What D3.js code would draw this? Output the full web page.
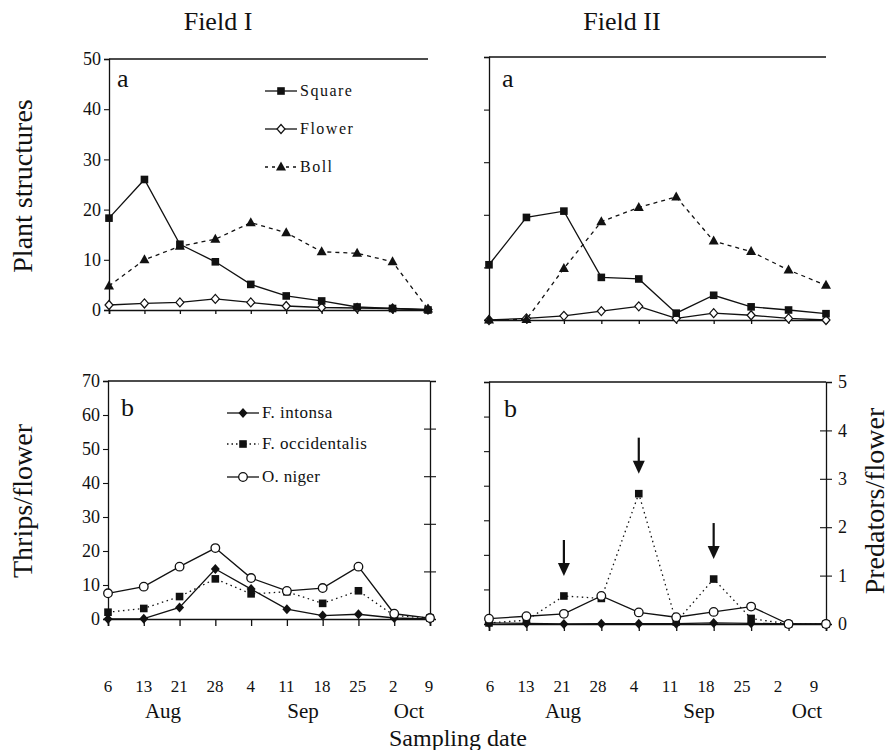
<!DOCTYPE html>
<html><head><meta charset="utf-8">
<script src="https://cdn.jsdelivr.net/npm/d3@7"></script>
<style>body{margin:0;background:#fff}svg{display:block}svg text{font-family:"Liberation Serif","Times New Roman","DejaVu Serif","Noto Serif",serif !important;fill:#111}</style>
</head><body><svg id="c" width="894" height="750" font-family="Liberation Serif, DejaVu Serif, serif"></svg>
<script>
const dates = ["6","13","21","28","4","11","18","25","2","9"];
const monthsLbl = ["Aug","Sep","Oct"];
const structTicks = [0,10,20,30,40,50];
const thripsTicks = [0,10,20,30,40,50,60,70];
const predTicks = [0,1,2,3,4,5];
// Field I, plant structures
const square1 = [18.3, 26.0, 13.1, 9.6, 5.1, 2.8, 1.8, 0.6, 0.3, 0.0];
const flower1 = [1.0, 1.3, 1.5, 2.2, 1.5, 0.8, 0.5, 0.4, 0.3, 0.1];
const boll1   = [4.8, 10.0, 12.7, 14.1, 17.4, 15.4, 11.6, 11.3, 9.6, 0.2];
// Field II, plant structures
const square2 = [10.5, 19.5, 20.7, 8.1, 7.8, 1.3, 4.7, 2.5, 1.9, 1.2];
const flower2 = [0.0, 0.3, 0.8, 1.7, 2.6, 0.3, 1.3, 0.9, 0.3, 0.0];
const boll2   = [0.0, 0.1, 9.8, 18.7, 21.4, 23.4, 15.0, 13.0, 9.5, 6.6];
// Field I, thrips (per flower) and O. niger (predators per flower)
const intonsa1 = [0.0, 0.1, 3.4, 14.7, 8.8, 2.9, 1.0, 1.4, 0.3, 0.0];
const occ1     = [2.0, 3.1, 6.6, 11.8, 7.4, 8.0, 4.6, 8.3, 1.0, 0.3];
const niger1   = [0.54, 0.68, 1.10, 1.49, 0.86, 0.59, 0.65, 1.10, 0.11, 0.02];
// Field II
const intonsa2 = [0.3, 0.2, 0.0, 0.1, 0.1, 0.1, 0.3, 0.2, 0.0, 0.0];
const occ2     = [0.3, 1.1, 8.1, 7.4, 37.7, 0.6, 13.0, 1.6, 0.0, 0.0];
const niger2   = [0.11, 0.16, 0.21, 0.58, 0.24, 0.14, 0.25, 0.36, 0.0, 0.0];
const arrowIdx = [2, 4, 6];

const FONT = "Liberation Serif, Times New Roman, DejaVu Serif, serif";
const svg = d3.select("#c");
const ink = "#111";

function panel(o){
  const g = svg.append("g");
  const x = d3.scalePoint().domain(d3.range(dates.length)).range(o.xr);
  const y = d3.scaleLinear().domain(o.yd).range(o.yr);
  g.append("line").attr("x1",o.xr[0]).attr("x2",o.xr[1]).attr("y1",o.yr[1]).attr("y2",o.yr[1]).attr("stroke",ink).attr("stroke-width",1.3);
  const la = g.append("g").attr("transform",`translate(${o.xr[0]},0)`)
    .call(d3.axisLeft(y).tickValues(o.yt).tickSize(5).tickFormat(o.ylab? d3.format("d") : ""));
  la.attr("font-family",FONT);
  la.select(".domain").attr("stroke",ink).attr("stroke-width",1.3);
  la.selectAll(".tick line").attr("stroke",ink).attr("stroke-width",1.1);
  la.selectAll(".tick text").attr("font-size",18).attr("x",-8);
  const xa = g.append("g").attr("transform",`translate(0,${o.yr[0]})`)
    .call(d3.axisBottom(x).tickSize(o.xtick).tickFormat(""));
  xa.select(".domain").attr("stroke",ink).attr("stroke-width",1.6);
  xa.selectAll(".tick line").attr("stroke",ink).attr("stroke-width",1.3);
  let y2 = null;
  if(o.right){
    y2 = d3.scaleLinear().domain([0,5]).range(o.yr);
    const ra = g.append("g").attr("transform",`translate(${o.xr[1]},0)`)
      .call(d3.axisRight(y2).tickValues(predTicks).tickSize(6).tickPadding(6).tickFormat(o.rlab? d3.format("d"):""));
    ra.attr("font-family",FONT);
    ra.select(".domain").attr("stroke",ink).attr("stroke-width",1.3);
    ra.selectAll(".tick line").attr("x1",-6).attr("stroke",ink).attr("stroke-width",1.1);
    ra.selectAll(".tick").filter(d=>d===0||d===5).select("line").remove();
    ra.selectAll(".tick text").attr("font-size",18);
  }
  g.append("text").attr("x",o.letterX).attr("y",o.letterY).attr("font-size",26).text(o.letter);
  return {g,x,y,y2};
}

function drawSeries(p, vals, yS, st){
  const line = d3.line().x((d,i)=>p.x(i)).y(d=>yS(d));
  p.g.append("path").datum(vals).attr("d",line).attr("fill","none")
    .attr("stroke",ink).attr("stroke-width",st.w||1.3).attr("stroke-dasharray",st.dash||null);
  const mg = p.g.append("g");
  vals.forEach((v,i)=>marker(mg, p.x(i), yS(v), st.m));
}
function marker(g, cx, cy, m){
  if(m==="sq") g.append("rect").attr("x",cx-3.8).attr("y",cy-3.8).attr("width",7.6).attr("height",7.6).attr("fill",ink);
  else if(m==="odia") g.append("path").attr("d",`M${cx},${cy-4.5}L${cx+4},${cy}L${cx},${cy+4.5}L${cx-4},${cy}Z`).attr("fill","#fff").attr("stroke",ink).attr("stroke-width",1.2);
  else if(m==="fdia") g.append("path").attr("d",`M${cx},${cy-5}L${cx+4.5},${cy}L${cx},${cy+5}L${cx-4.5},${cy}Z`).attr("fill",ink);
  else if(m==="tri") g.append("path").attr("d",`M${cx},${cy-5.5}L${cx+5},${cy+3.5}L${cx-5},${cy+3.5}Z`).attr("fill",ink);
  else if(m==="circ") g.append("circle").attr("cx",cx).attr("cy",cy).attr("r",4.3).attr("fill","#fff").attr("stroke",ink).attr("stroke-width",1.3);
}
function legend(g, x0, yy, label, st){
  g.append("line").attr("x1",x0).attr("x2",x0+32).attr("y1",yy).attr("y2",yy).attr("stroke",ink).attr("stroke-width",1.3).attr("stroke-dasharray",st.dash||null);
  marker(g, x0+16, yy, st.m);
  g.append("text").attr("x",x0+35).attr("y",yy+5).attr("font-size",st.fs||16).attr("letter-spacing",st.ls||0).text(label);
}

const stSq = {m:"sq"}, stFl = {m:"odia"}, stBo = {m:"tri", dash:"4,4"};
const stIn = {m:"fdia"}, stOc = {m:"sq", dash:"1.5,3.5"}, stNi = {m:"circ"};

const p1 = panel({xr:[109,428], yd:[0,50], yr:[310,59], yt:structTicks, ylab:true, xtick:4, letter:"a", letterX:117, letterY:87});
drawSeries(p1, flower1, p1.y, stFl);
drawSeries(p1, boll1, p1.y, stBo);
drawSeries(p1, square1, p1.y, stSq);
legend(p1.g, 265, 91, "Square", {m:"sq", ls:1.5});
legend(p1.g, 265, 129, "Flower", {m:"odia", ls:1.5});
legend(p1.g, 265, 167, "Boll", {m:"tri", dash:"3,4", ls:1.5});

const p2 = panel({xr:[489,826], yd:[0,50], yr:[320,57], yt:structTicks, ylab:false, xtick:4, letter:"a", letterX:502, letterY:87});
drawSeries(p2, flower2, p2.y, stFl);
drawSeries(p2, boll2, p2.y, stBo);
drawSeries(p2, square2, p2.y, stSq);

const p3 = panel({xr:[108,430], yd:[0,70], yr:[619,381], yt:thripsTicks, ylab:true, xtick:7, right:true, rlab:false, letter:"b", letterX:121, letterY:416});
drawSeries(p3, occ1, p3.y, stOc);
drawSeries(p3, intonsa1, p3.y, stIn);
drawSeries(p3, niger1, p3.y2, stNi);
legend(p3.g, 227, 413, "F. intonsa", {m:"fdia", fs:17, ls:0.5});
legend(p3.g, 227, 444, "F. occidentalis", {m:"sq", dash:"1.5,3", fs:17, ls:0.5});
legend(p3.g, 227, 477, "O. niger", {m:"circ", fs:17, ls:0.3});

const p4 = panel({xr:[489,826], yd:[0,70], yr:[624,382], yt:thripsTicks, ylab:false, xtick:7, right:true, rlab:true, letter:"b", letterX:504, letterY:417});
drawSeries(p4, occ2, p4.y, stOc);
drawSeries(p4, intonsa2, p4.y, stIn);
drawSeries(p4, niger2, p4.y2, stNi);
arrowIdx.forEach(i=>{
  const cx = p4.x(i), tip = p4.y(occ2[i]) - 20;
  p4.g.append("line").attr("x1",cx).attr("x2",cx).attr("y1",tip-36).attr("y2",tip-10).attr("stroke",ink).attr("stroke-width",2.2);
  p4.g.append("path").attr("d",`M${cx-6},${tip-13}L${cx+6},${tip-13}L${cx},${tip}Z`).attr("fill",ink);
});

const lx1 = d3.scalePoint().domain(d3.range(dates.length)).range([108,429]);
const lx2 = d3.scalePoint().domain(d3.range(dates.length)).range([490,814]);
[lx1,lx2].forEach(s=>{
  svg.append("g").selectAll("text").data(dates).join("text")
    .attr("x",(d,i)=>s(i)).attr("y",692).attr("text-anchor","middle").attr("font-size",17).text(d=>d);
});
const mx1 = [163,303,409], mx2 = [563,699,807];
[mx1,mx2].forEach(arr=>{
  svg.append("g").selectAll("text").data(monthsLbl).join("text")
    .attr("x",(d,i)=>arr[i]).attr("y",718).attr("text-anchor","middle").attr("font-size",21).text(d=>d);
});
svg.append("text").attr("x",458).attr("y",746).attr("text-anchor","middle").attr("font-size",24).text("Sampling date");
svg.append("text").attr("x",218).attr("y",30).attr("text-anchor","middle").attr("font-size",26).text("Field I");
svg.append("text").attr("x",622).attr("y",30).attr("text-anchor","middle").attr("font-size",26).text("Field II");
svg.append("text").attr("transform","translate(32,186) rotate(-90)").attr("text-anchor","middle").attr("font-size",28).text("Plant structures");
svg.append("text").attr("transform","translate(32,501) rotate(-90)").attr("text-anchor","middle").attr("font-size",28).text("Thrips/flower");
svg.append("text").attr("transform","translate(884,501) rotate(-90)").attr("text-anchor","middle").attr("font-size",28).text("Predators/flower");
</script></body></html>
